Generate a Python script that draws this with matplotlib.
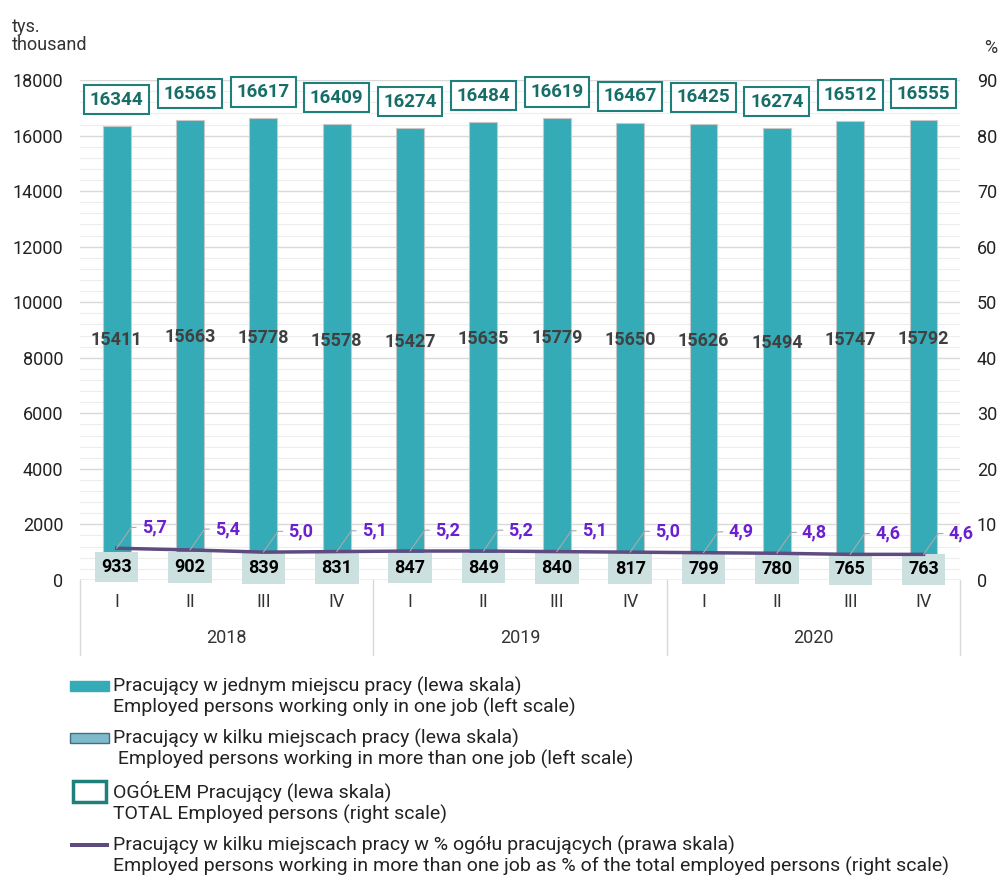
import matplotlib.pyplot as plt
from matplotlib.patches import Patch, Rectangle
from matplotlib.legend_handler import HandlerPatch

plt.rcParams['font.family'] = ['Roboto', 'DejaVu Sans']

quarters = ["I", "II", "III", "IV"] * 3
years = ["2018", "2019", "2020"]
one_job = [15411, 15663, 15778, 15578, 15427, 15635, 15779, 15650, 15626, 15494, 15747, 15792]
more_jobs = [933, 902, 839, 831, 847, 849, 840, 817, 799, 780, 765, 763]
total = [16344, 16565, 16617, 16409, 16274, 16484, 16619, 16467, 16425, 16274, 16512, 16555]
pct = [5.7, 5.4, 5.0, 5.1, 5.2, 5.2, 5.1, 5.0, 4.9, 4.8, 4.6, 4.6]

teal = "#35abb7"
light = "#7fbacc"
box_edge = "#1f7f7a"
purple_line = "#5e4b80"
purple_text = "#6a1fd1"

fig = plt.figure(figsize=(10.06, 8.8), dpi=100)
ax = fig.add_axes([0.0795, 0.341, 0.875, 0.568])
x = list(range(len(one_job)))

ax.bar(x, more_jobs, width=0.38, color=light, edgecolor="#c8c8c8", linewidth=0.8, zorder=2)
ax.bar(x, one_job, width=0.38, bottom=more_jobs, color=teal, edgecolor="#c8c8c8", linewidth=0.8, zorder=2)

ax.set_ylim(0, 18000)
ax.set_xlim(-0.5, 11.5)
ax.set_yticks(range(0, 18001, 2000))
ax.set_yticks(range(0, 18001, 400), minor=True)
ax.grid(axis='y', which='major', color='#d9d9d9', linewidth=1, zorder=0)
ax.grid(axis='y', which='minor', color='#ededed', linewidth=0.8, zorder=0)
ax.tick_params(axis='y', which='both', length=0, labelsize=13, pad=12, labelcolor='#222222')
ax.set_xticks([])
for s in ax.spines.values():
    s.set_visible(False)

for i in x:
    ax.text(i, more_jobs[i] + one_job[i] / 2, str(one_job[i]), ha='center', va='center',
            fontsize=13, fontweight='bold', color='#404040', zorder=4)
    ax.text(i, more_jobs[i] / 2, str(more_jobs[i]), ha='center', va='center',
            fontsize=13, fontweight='bold', color='black', zorder=5,
            bbox=dict(boxstyle='square,pad=0.35', fc='#cce0e0', ec='none'))
    ax.annotate(str(total[i]), (i, total[i]), xytext=(0, 19), textcoords='offset points',
                ha='center', va='center', fontsize=13.5, fontweight='bold', color='#176e69',
                bbox=dict(boxstyle='square,pad=0.3', fc='white', ec=box_edge, lw=1.5), zorder=5)

ax2 = ax.twinx()
ax2.set_ylim(0, 90)
ax2.set_yticks(range(0, 91, 10))
ax2.tick_params(axis='y', length=0, labelsize=13, pad=12, labelcolor='#222222')
for s in ax2.spines.values():
    s.set_visible(False)
ax2.plot(x, pct, color=purple_line, linewidth=2.5, zorder=3)
for i in x:
    ax2.annotate(f"{pct[i]:.1f}".replace(".", ","), (i, pct[i]), xytext=(18, 15),
                 textcoords='offset points', ha='left', va='center', fontsize=13,
                 fontweight='bold', color=purple_text,
                 arrowprops=dict(arrowstyle='-', color='#aaaaaa', lw=0.8,
                                 connectionstyle='angle,angleA=0,angleB=55,rad=0',
                                 shrinkA=2, shrinkB=0))

# category axis frame
for b in [-0.5, 3.5, 7.5, 11.5]:
    ax.plot([b, b], [0, -0.15], transform=ax.get_xaxis_transform(), color='#d9d9d9',
            lw=1, clip_on=False)
ax.axhline(0, color='#d0d0d0', lw=1)
for i in x:
    ax.text(i, -0.045, quarters[i], transform=ax.get_xaxis_transform(), ha='center',
            va='center', fontsize=13, color='#333333')
for k, y in enumerate(years):
    ax.text(4 * k + 1.5, -0.117, y, transform=ax.get_xaxis_transform(), ha='center',
            va='center', fontsize=13, color='#333333')

fig.text(0.012, 0.98, "tys.\nthousand", ha='left', va='top', fontsize=13, color='#333333',
         linespacing=1.05)
fig.text(0.985, 0.945, "%", ha='center', va='center', fontsize=13, color='#333333')


# legend handles sit on the first text line, like in the original
def top_patch(h, w_trim=0):
    def f(legend, orig_handle, xdescent, ydescent, width, height, fontsize):
        yc = -ydescent + height / 2 + 8
        return Rectangle((-xdescent + w_trim, yc - h / 2), width - 2 * w_trim, h)
    return HandlerPatch(patch_func=f)


h1 = Patch(fc=teal, ec=teal)
h2 = Patch(fc=light, ec='#3f6f80', lw=1)
h3 = Patch(fc='white', ec=box_edge, lw=2.5)
h4 = Patch(fc=purple_line, ec=purple_line, lw=0)
labels = ["Pracujący w jednym miejscu pracy (lewa skala)\nEmployed persons working only in one job (left scale)",
          "Pracujący w kilku miejscach pracy (lewa skala)\n Employed persons working in more than one job (left scale)",
          "OGÓŁEM Pracujący (lewa skala)\nTOTAL Employed persons (right scale)",
          "Pracujący w kilku miejscach pracy w % ogółu pracujących (prawa skala)\nEmployed persons working in more than one job as % of the total employed persons (right scale)"]
leg = fig.legend([h1, h2, h3, h4], labels, loc='upper left', bbox_to_anchor=(0.062, 0.24),
                 frameon=False, fontsize=14, labelspacing=0.6, handlelength=2.0, handleheight=0.8,
                 handletextpad=0.2, borderaxespad=0,
                 handler_map={h1: top_patch(7), h2: top_patch(7), h3: top_patch(15, 2),
                              h4: top_patch(2.6)})
for t in leg.get_texts():
    t.set_linespacing(1.15)
    t.set_color('#222222')

fig.savefig("out.png", dpi=100)
